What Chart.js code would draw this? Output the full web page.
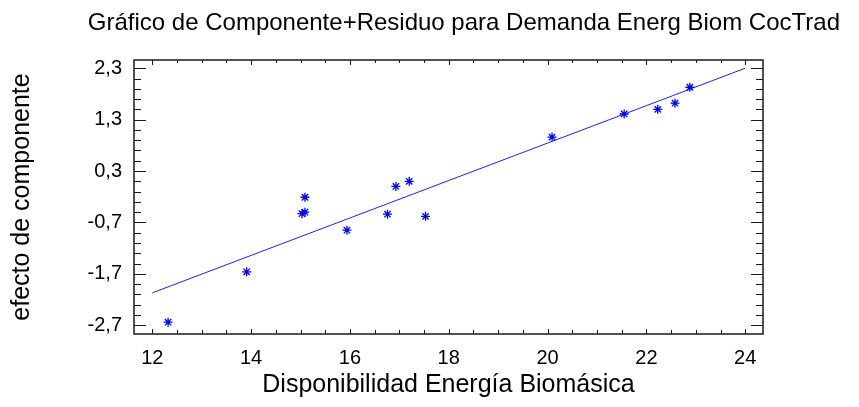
<!DOCTYPE html>
<html><head><meta charset="utf-8">
<script src="https://cdn.jsdelivr.net/npm/chart.js@4/dist/chart.umd.min.js"></script>
<style>html,body{margin:0;padding:0;background:#fff;overflow:hidden}</style>
</head><body>
<canvas id="c" width="859" height="407"></canvas>
<script>
// ---- data ----
const xValues = [12.32, 13.91, 15.09, 15.03, 15.09, 15.94, 16.76, 16.93, 17.20, 17.53, 20.09, 21.55, 22.23, 22.58, 22.88];
const yValues = [-2.64, -1.66, -0.21, -0.53, -0.50, -0.85, -0.54, 0.00, 0.10, -0.58, 0.96, 1.41, 1.50, 1.62, 1.93];
const fitX = [12, 24];
const fitY = [-2.07, 2.30];
const xTicks = [12, 14, 16, 18, 20, 22, 24];
const yTicks = [-2.7, -1.7, -0.7, 0.3, 1.3, 2.3];
const titleText = 'Gráfico de Componente+Residuo para Demanda Energ Biom CocTrad';
const xTitle = 'Disponibilidad Energía Biomásica';
const yTitle = 'efecto de componente';

const FONT = "'Liberation Sans', Arial, sans-serif";

const frameTicks = {
  id: 'frameTicks',
  afterDraw(chart) {
    const {ctx, chartArea: a, scales: {x, y}} = chart;
    ctx.save();
    ctx.strokeStyle = '#1a1a1a';
    ctx.lineWidth = 1;
    ctx.beginPath();
    const xs = xTicks[0], xe = xTicks[xTicks.length - 1];
    const nx = Math.round((xe - xs) / 0.5);
    for (let i = 0; i <= nx; i++) {
      const v = xs + i * 0.5;
      const px = Math.round(x.getPixelForValue(v)) + 0.5;
      const major = i % 4 === 0;
      ctx.moveTo(px, a.bottom); ctx.lineTo(px, a.bottom - (major ? 5 : 4));
      ctx.moveTo(px, a.top); ctx.lineTo(px, a.top + (major ? 5 : 3));
    }
    const ys = yTicks[0], ye = yTicks[yTicks.length - 1];
    const ny = Math.round((ye - ys) / 0.2);
    for (let i = 0; i <= ny; i++) {
      const v = ys + i * 0.2;
      const py = Math.round(y.getPixelForValue(v)) + 0.5;
      const major = i % 5 === 0;
      ctx.moveTo(a.left, py); ctx.lineTo(a.left + (major ? 12 : 7), py);
      ctx.moveTo(a.right, py); ctx.lineTo(a.right - (major ? 12 : 7), py);
    }
    ctx.stroke();
    ctx.lineWidth = 1.5;
    ctx.strokeRect(a.left, a.top, a.right - a.left, a.bottom - a.top);
    ctx.restore();
  }
};

new Chart(document.getElementById('c'), {
  data: {
    datasets: [
      {
        type: 'scatter',
        data: xValues.map((v, i) => ({x: v, y: yValues[i]})),
        pointStyle: 'star',
        pointRadius: 4.5,
        borderColor: '#0000ff',
        backgroundColor: '#0000ff',
        pointBorderWidth: 1.3,
        order: 1
      },
      {
        type: 'line',
        data: fitX.map((v, i) => ({x: v, y: fitY[i]})),
        borderColor: '#1f1fff',
        borderWidth: 1,
        pointRadius: 0,
        fill: false,
        order: 2
      }
    ]
  },
  plugins: [frameTicks],
  options: {
    responsive: false,
    devicePixelRatio: 1,
    animation: false,
    layout: {padding: {left: 0, right: 19, top: 0, bottom: 0}},
    plugins: {
      legend: {display: false},
      tooltip: {enabled: false},
      title: {
        display: true,
        text: titleText,
        align: 'end',
        color: '#000',
        font: {family: FONT, size: 24, weight: 'normal'},
        padding: {top: 9, bottom: 22.2}
      }
    },
    scales: {
      x: {
        type: 'linear',
        position: 'bottom',
        min: 11.63,
        max: 24.36,
        grid: {display: false},
        border: {display: false},
        afterBuildTicks(s) { s.ticks = xTicks.map(v => ({value: v})); },
        afterFit(s) { s.height = 73; },
        ticks: {
          color: '#000',
          padding: 4,
          maxRotation: 0,
          font: {family: FONT, size: 20},
          callback: v => String(v)
        },
        title: {
          display: true,
          text: xTitle,
          color: '#000',
          font: {family: FONT, size: 25},
          padding: {top: 0, bottom: 7}
        }
      },
      y: {
        type: 'linear',
        position: 'left',
        min: -2.87,
        max: 2.46,
        grid: {display: false},
        border: {display: false},
        afterBuildTicks(s) { s.ticks = yTicks.map(v => ({value: v})); },
        afterFit(s) { s.width = 134; },
        ticks: {
          color: '#000',
          padding: 4,
          font: {family: FONT, size: 20},
          callback: v => v.toFixed(1).replace('.', ',')
        },
        title: {
          display: true,
          text: yTitle,
          color: '#000',
          font: {family: FONT, size: 25},
          padding: {top: 7, bottom: 0}
        }
      },
      yRight: {
        type: 'linear',
        position: 'right',
        display: true,
        grid: {display: false},
        border: {display: false},
        ticks: {display: false},
        afterFit(s) { s.width = 77; }
      }
    }
  }
});
</script>
</body></html>
